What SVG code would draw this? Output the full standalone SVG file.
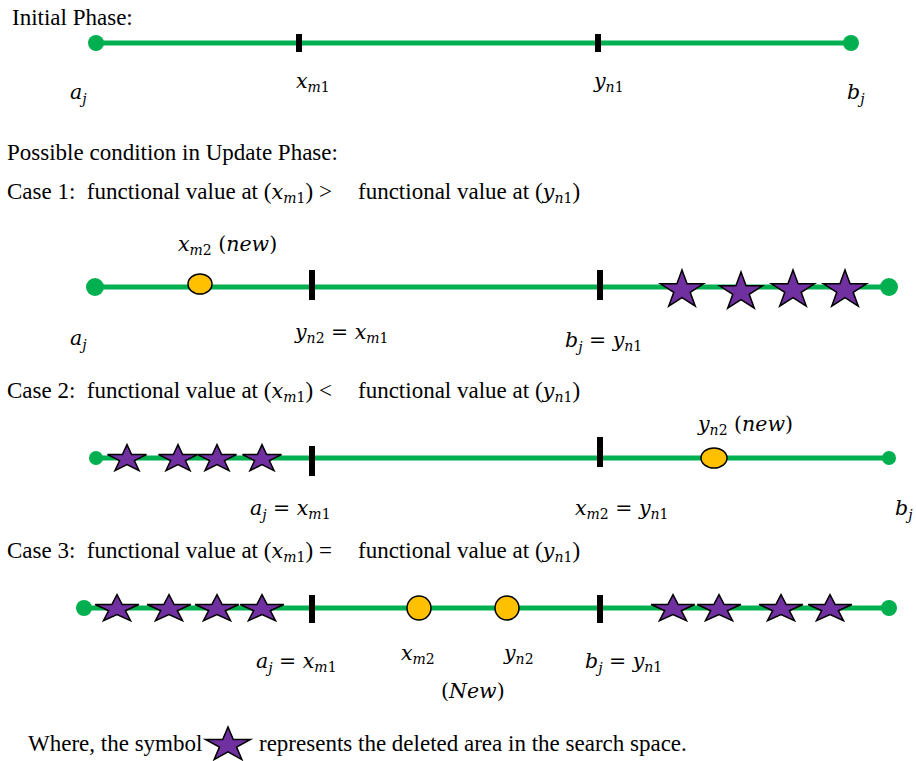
<svg xmlns="http://www.w3.org/2000/svg" width="916" height="761" viewBox="0 0 916 761">
<style>
.t{font-family:"Liberation Serif","Times New Roman",serif;font-size:23px;fill:#000}
.m{font-family:"DejaVu Serif","Liberation Serif",serif;font-style:italic;font-size:20.5px;fill:#000}
.h{font-size:21px}
.s{font-size:14px}
.u{font-style:normal}
.ln{stroke:#00B050;stroke-width:5;fill:none}
.end{fill:#00B050}
.tick{fill:#000}
.dot{fill:#FFC000;stroke:#000;stroke-width:1.5}
.star{fill:#7030A0;stroke:#000;stroke-width:1.5}
</style>
<defs>
<path id="st" vector-effect="non-scaling-stroke" d="M0,-1 L0.2245,-0.309 L0.951,-0.309 L0.363,0.118 L0.588,0.809 L0,0.382 L-0.588,0.809 L-0.363,0.118 L-0.951,-0.309 L-0.2245,-0.309 Z"/>
</defs>

<g id="initial">
<text class="t" x="12" y="25">Initial Phase:</text>
<line class="ln" x1="96" y1="43" x2="851" y2="43"/>
<circle class="end" cx="96" cy="43" r="8"/>
<circle class="end" cx="851" cy="43" r="8"/>
<rect class="tick" x="296" y="34" width="6" height="18"/>
<rect class="tick" x="595" y="34" width="6" height="18"/>
<text class="m" x="70" y="99">a<tspan class="s" dy="5">j</tspan></text>
<text class="m" x="296" y="88">x<tspan class="s" dy="4">m<tspan class="u">1</tspan></tspan></text>
<text class="m" x="594" y="88">y<tspan class="s" dy="4">n<tspan class="u">1</tspan></tspan></text>
<text class="m" x="847" y="99">b<tspan class="s" dy="5">j</tspan></text>
</g>

<g id="case1">
<text class="t" x="7" y="160">Possible condition in Update Phase:</text>
<text class="t" x="7" y="199">Case 1:&#160; functional value at (<tspan class="m h">x<tspan class="s" dy="4">m<tspan class="u">1</tspan></tspan></tspan><tspan dy="-4">) &gt;</tspan></text>
<text class="t" x="358" y="199">functional value at (<tspan class="m h">y<tspan class="s" dy="4">n<tspan class="u">1</tspan></tspan></tspan><tspan dy="-4">)</tspan></text>
<line class="ln" x1="95" y1="287" x2="889" y2="287"/>
<circle class="end" cx="95" cy="287" r="9"/>
<circle class="end" cx="889" cy="287" r="9"/>
<rect class="tick" x="309" y="270" width="6" height="30"/>
<rect class="tick" x="597" y="270" width="6" height="30"/>
<ellipse class="dot" cx="200" cy="284" rx="12" ry="10"/>
<use href="#st" class="star" transform="translate(682,290) scale(22.6,20)"/>
<use href="#st" class="star" transform="translate(741,292) scale(22.6,20)"/>
<use href="#st" class="star" transform="translate(793,290) scale(22.6,20)"/>
<use href="#st" class="star" transform="translate(845,290) scale(22.6,20)"/>
<text class="m" x="178" y="251">x<tspan class="s" dy="4">m<tspan class="u">2</tspan></tspan><tspan class="u" dy="-4"> (</tspan>new<tspan class="u">)</tspan></text>
<text class="m" x="70" y="345">a<tspan class="s" dy="5">j</tspan></text>
<text class="m" x="295" y="339">y<tspan class="s" dy="4">n<tspan class="u">2</tspan></tspan><tspan class="u" dy="-4"> = </tspan>x<tspan class="s" dy="4">m<tspan class="u">1</tspan></tspan></text>
<text class="m" x="565" y="347">b<tspan class="s" dy="5">j</tspan><tspan class="u" dy="-5"> = </tspan>y<tspan class="s" dy="4">n<tspan class="u">1</tspan></tspan></text>
</g>

<g id="case2">
<text class="t" x="7" y="398">Case 2:&#160; functional value at (<tspan class="m h">x<tspan class="s" dy="4">m<tspan class="u">1</tspan></tspan></tspan><tspan dy="-4">) &lt;</tspan></text>
<text class="t" x="358" y="398">functional value at (<tspan class="m h">y<tspan class="s" dy="4">n<tspan class="u">1</tspan></tspan></tspan><tspan dy="-4">)</tspan></text>
<line class="ln" x1="96" y1="458" x2="889" y2="458"/>
<circle class="end" cx="96" cy="458" r="7"/>
<circle class="end" cx="889" cy="458" r="7"/>
<use href="#st" class="star" transform="translate(127,459) scale(20.5,14.4)"/>
<use href="#st" class="star" transform="translate(178,459) scale(20.5,14.4)"/>
<use href="#st" class="star" transform="translate(217,459) scale(20.5,14.4)"/>
<use href="#st" class="star" transform="translate(262,459) scale(20.5,14.4)"/>
<rect class="tick" x="309" y="446" width="6" height="30"/>
<rect class="tick" x="597" y="437" width="6" height="30"/>
<ellipse class="dot" cx="714" cy="458" rx="13" ry="10"/>
<text class="m" x="698" y="431">y<tspan class="s" dy="4">n<tspan class="u">2</tspan></tspan><tspan class="u" dy="-4"> (</tspan>new<tspan class="u">)</tspan></text>
<text class="m" x="250" y="515">a<tspan class="s" dy="5">j</tspan><tspan class="u" dy="-5"> = </tspan>x<tspan class="s" dy="4">m<tspan class="u">1</tspan></tspan></text>
<text class="m" x="575" y="515">x<tspan class="s" dy="4">m<tspan class="u">2</tspan></tspan><tspan class="u" dy="-4"> = </tspan>y<tspan class="s" dy="4">n<tspan class="u">1</tspan></tspan></text>
<text class="m" x="895" y="515">b<tspan class="s" dy="5">j</tspan></text>
</g>

<g id="case3">
<text class="t" x="7" y="558">Case 3:&#160; functional value at (<tspan class="m h">x<tspan class="s" dy="4">m<tspan class="u">1</tspan></tspan></tspan><tspan dy="-4">) =</tspan></text>
<text class="t" x="358" y="558">functional value at (<tspan class="m h">y<tspan class="s" dy="4">n<tspan class="u">1</tspan></tspan></tspan><tspan dy="-4">)</tspan></text>
<line class="ln" x1="84" y1="608" x2="889" y2="608"/>
<circle class="end" cx="84" cy="608" r="8"/>
<circle class="end" cx="889" cy="608" r="8"/>
<use href="#st" class="star" transform="translate(117,609) scale(23,14.4)"/>
<use href="#st" class="star" transform="translate(169,609) scale(23,14.4)"/>
<use href="#st" class="star" transform="translate(217,609) scale(23,14.4)"/>
<use href="#st" class="star" transform="translate(262,609) scale(23,14.4)"/>
<use href="#st" class="star" transform="translate(673,609) scale(23,14.4)"/>
<use href="#st" class="star" transform="translate(719,609) scale(23,14.4)"/>
<use href="#st" class="star" transform="translate(781,609) scale(23,14.4)"/>
<use href="#st" class="star" transform="translate(830,609) scale(23,14.4)"/>
<rect class="tick" x="309" y="595" width="6" height="28"/>
<rect class="tick" x="597" y="595" width="6" height="28"/>
<circle class="dot" cx="419" cy="608" r="12"/>
<circle class="dot" cx="507" cy="608" r="12"/>
<text class="m" x="256" y="668">a<tspan class="s" dy="5">j</tspan><tspan class="u" dy="-5"> = </tspan>x<tspan class="s" dy="4">m<tspan class="u">1</tspan></tspan></text>
<text class="m" x="401" y="660">x<tspan class="s" dy="4">m<tspan class="u">2</tspan></tspan></text>
<text class="m" x="504" y="660">y<tspan class="s" dy="4">n<tspan class="u">2</tspan></tspan></text>
<text class="m" x="585" y="668">b<tspan class="s" dy="5">j</tspan><tspan class="u" dy="-5"> = </tspan>y<tspan class="s" dy="4">n<tspan class="u">1</tspan></tspan></text>
<text class="m" x="441" y="698"><tspan class="u">(</tspan>New<tspan class="u">)</tspan></text>
</g>

<g id="legend">
<text class="t" x="28" y="751">Where, the symbol</text>
<use href="#st" class="star" transform="translate(228,745) scale(23.6,18)"/>
<text class="t" x="259" y="751">represents the deleted area in the search space.</text>
</g>
</svg>
